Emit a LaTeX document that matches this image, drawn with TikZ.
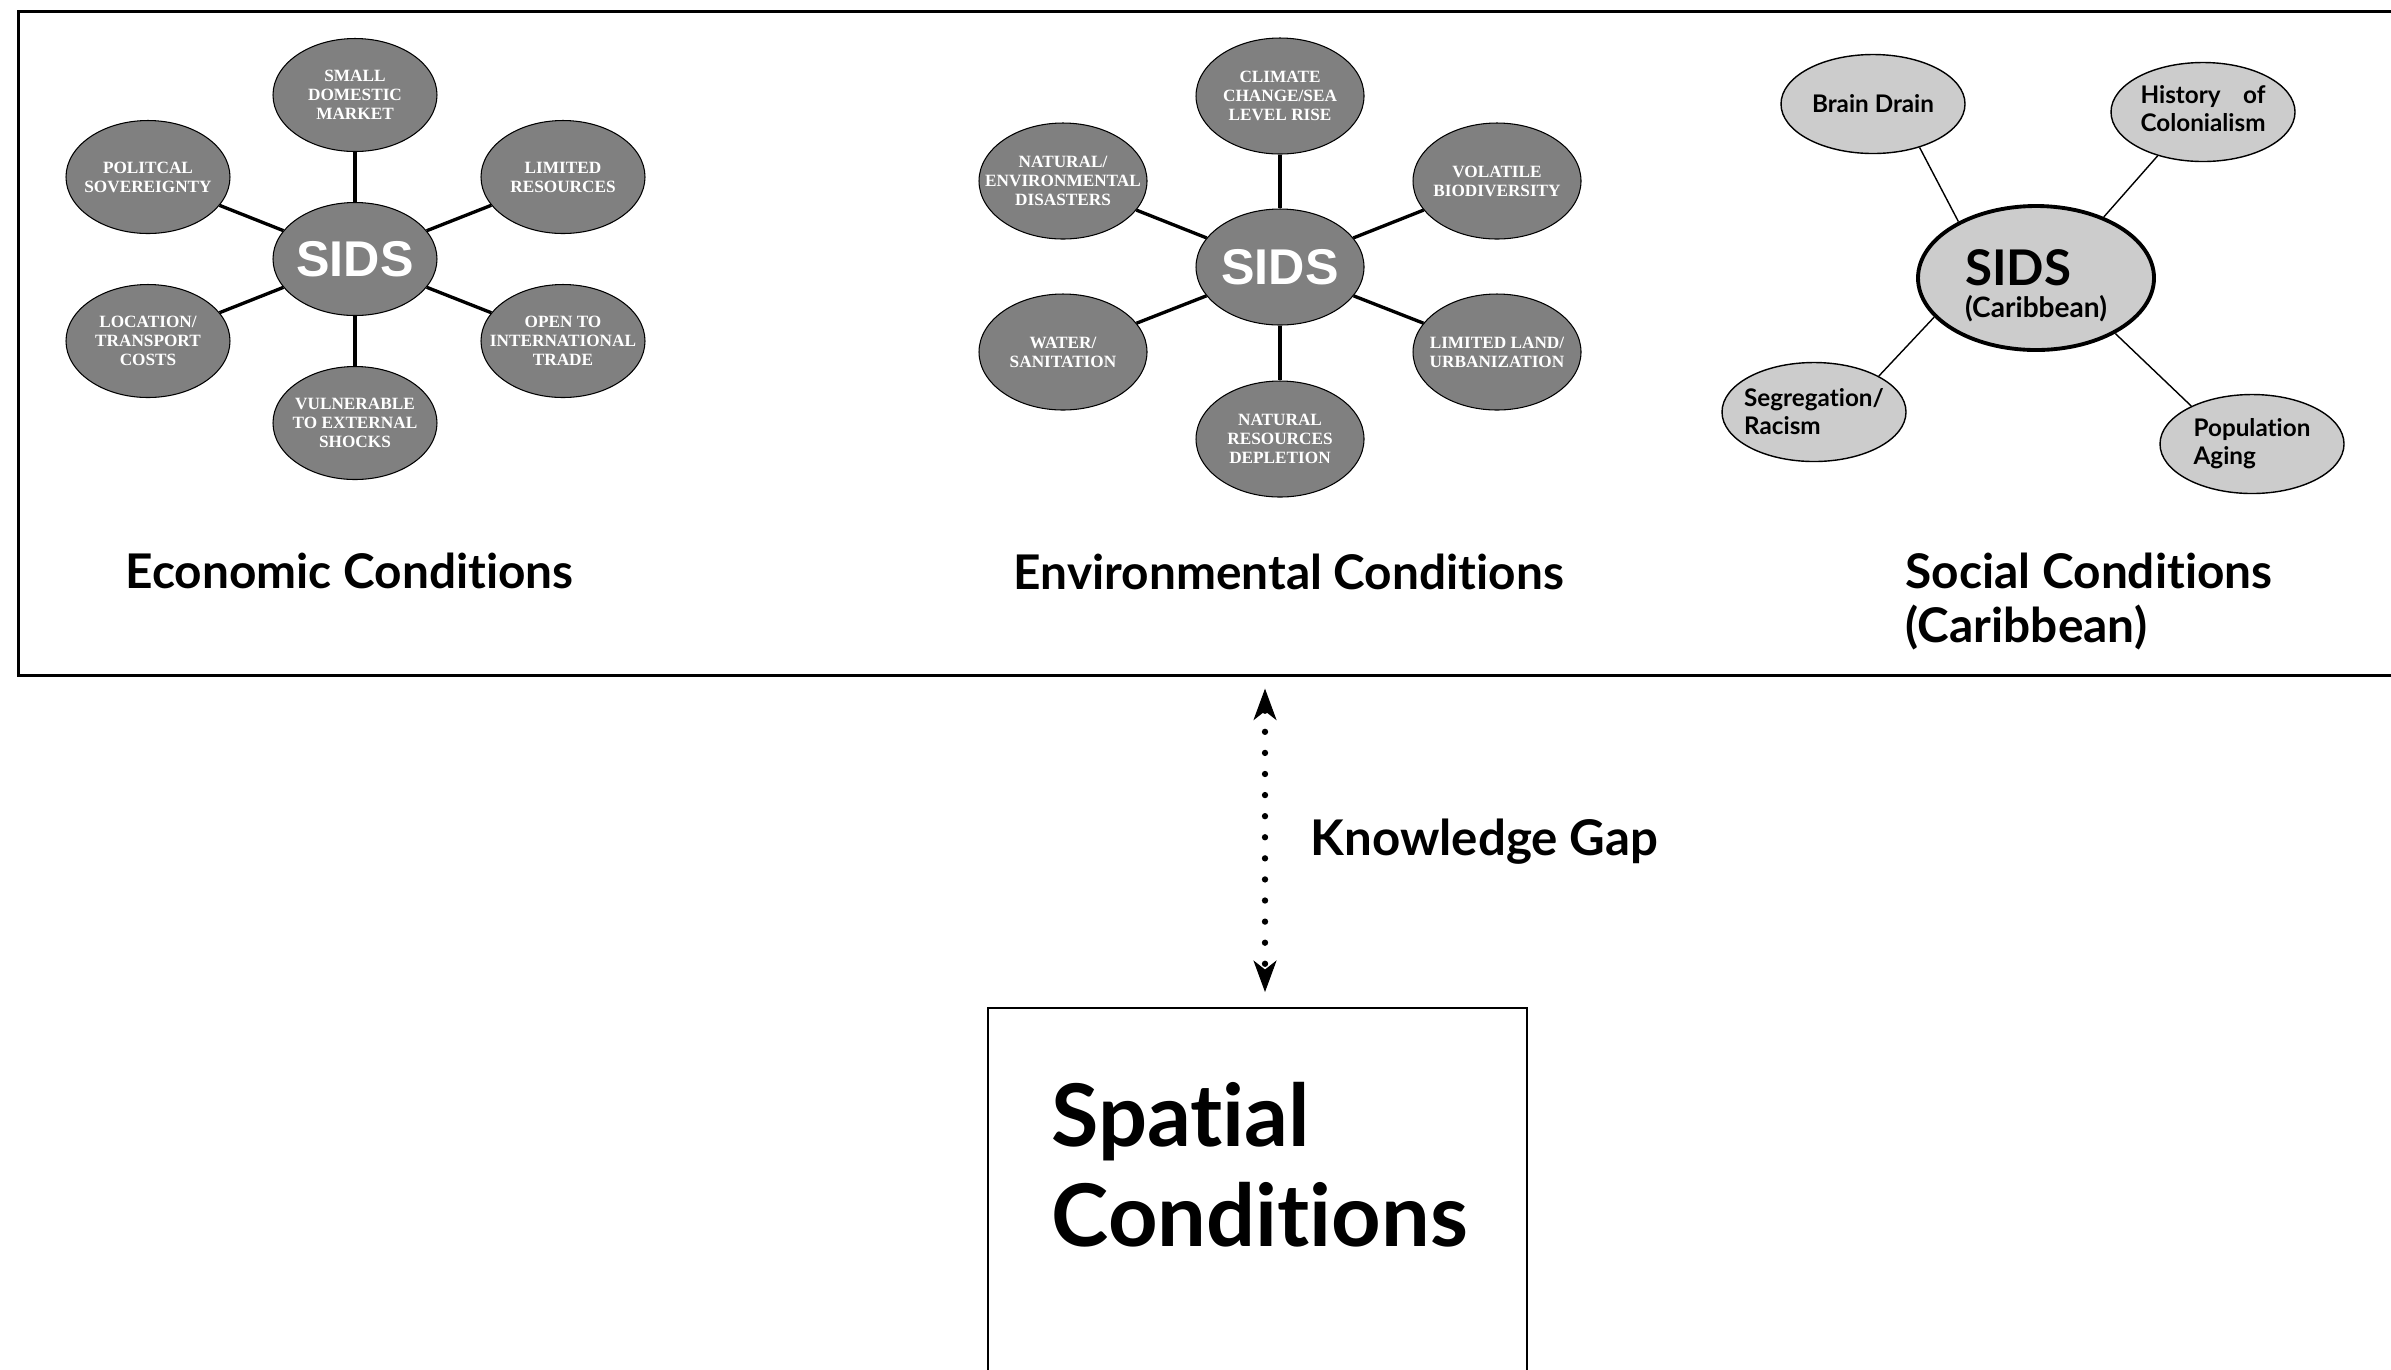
\documentclass[tikz,border=0pt]{standalone}
\usepackage{fontspec}
\setmainfont{Lato}[Ligatures=NoCommon]
\newfontfamily\timesfont{Liberation Serif}
\newfontfamily\arialfont{Liberation Sans}
\usetikzlibrary{shapes.geometric,arrows.meta}
\definecolor{hubgray}{gray}{0.5}
\definecolor{socgray}{gray}{0.8}

\begin{document}
\begin{tikzpicture}[x=0.1mm,y=-0.1mm,
		bubble/.style={ellipse,draw,fill=hubgray,line width=0.3pt,inner xsep=-3mm,inner ysep=0pt,minimum width=16.4mm,minimum height=11.3mm,text=white,align=center,font=\timesfont\bfseries\fontsize{4.9}{5.4}\selectfont},
		envbubble/.style={bubble,minimum width=16.8mm,minimum height=11.6mm},
		hub/.style={font=\arialfont\bfseries\fontsize{14.3}{16}\selectfont},
		spoke/.style={line width=0.95pt},
		socbubble/.style={ellipse,draw,fill=socgray,line width=0.4pt,inner xsep=-3mm,inner ysep=0pt,minimum width=18.4mm,minimum height=9.9mm,align=left,font=\bfseries\fontsize{6.9}{8}\selectfont},
		link/.style={line width=0.4pt},
		title/.style={anchor=base west,inner sep=0pt,align=left,font=\bfseries\fontsize{13.6}{15.1}\selectfont},
		gaparrow/.style={line width=1.8pt,line cap=round,dash pattern=on 0pt off 6pt,
			{Stealth[length=9pt,width=6.6pt,inset=2.6pt,line width=0.3pt]}-{Stealth[length=9pt,width=6.6pt,inset=2.6pt,line width=0.3pt]}}]
		\useasboundingbox (0,0) rectangle (2391,1369);
		\clip (0,0) rectangle (2391,1369);
		
		% Draw frames.
		\node[draw,line width=0.75pt,anchor=north west,inner sep=0pt,minimum width=250mm,minimum height=66.4mm] (condbox) at (17,10) {};
		\node[draw,line width=0.65pt,anchor=north west,inner sep=0pt,minimum width=53.9mm,minimum height=50mm] (spatialbox) at (987,1007) {};
		
		% Draw economic conditions.
		\node[bubble,hub] (ecohub) at (355,259) {SIDS};
		\node[bubble] (market) at (355,95) {SMALL\\DOMESTIC\\MARKET};
		\node[bubble] (resources) at (563,177) {LIMITED\\RESOURCES};
		\node[bubble] (trade) at (563,341) {OPEN TO\\INTERNATIONAL\\TRADE};
		\node[bubble] (shocks) at (355,423) {VULNERABLE\\TO EXTERNAL\\SHOCKS};
		\node[bubble] (transport) at (148,341) {LOCATION/\\TRANSPORT\\COSTS};
		\node[bubble] (sovereignty) at (148,177) {POLITCAL\\SOVEREIGNTY};
		\foreach \leaf in {market,resources,trade,shocks,transport,sovereignty}
			\draw[spoke] (ecohub) -- (\leaf);
		
		% Draw environmental conditions.
		\node[envbubble,hub] (envhub) at (1280,267) {SIDS};
		\node[envbubble] (climate) at (1280,96) {CLIMATE\\CHANGE/SEA\\LEVEL RISE};
		\node[envbubble] (biodiversity) at (1497,181) {VOLATILE\\BIODIVERSITY};
		\node[envbubble] (urbanization) at (1497,352) {LIMITED LAND/\\URBANIZATION};
		\node[envbubble] (depletion) at (1280,439) {NATURAL\\RESOURCES\\DEPLETION};
		\node[envbubble] (sanitation) at (1063,352) {WATER/\\SANITATION};
		\node[envbubble] (disasters) at (1063,181) {NATURAL/\\ENVIRONMENTAL\\DISASTERS};
		\foreach \leaf in {climate,biodiversity,urbanization,depletion,sanitation,disasters}
			\draw[spoke] (envhub) -- (\leaf);
		
		% Draw social conditions.
		\node[socbubble,line width=1.1pt,minimum width=23.6mm,minimum height=14.4mm,text height=7.8mm,text depth=0pt,font=\bfseries\fontsize{8}{9.1}\selectfont] (sochub) at (2036,278) {{\fontsize{14}{9.1}\selectfont SIDS}\\(Caribbean)};
		\node[socbubble] (brain) at (1873,104) {Brain Drain};
		\node[socbubble] (history) at (2203,112) {\begin{tabular}{@{}l@{}}History\hfill of\\Colonialism\end{tabular}};
		\node[socbubble] (segregation) at (1814,412) {Segregation/\\Racism};
		\node[socbubble] (aging) at (2252,444) {Population\\Aging};
		\draw[link] (brain.-43) -- (sochub.144);
		\draw[link] (history.-136) -- (sochub.42);
		\draw[link] (segregation.29) -- (sochub.-159);
		\draw[link] (aging.148) -- (sochub.-35);
		
		% Draw titles.
		\node[title] (ecotitle) at (125,588) {Economic Conditions};
		\node[title] (envtitle) at (1013,589) {Environmental Conditions};
		\node[title] (soctitle) at (1905,642) {Social Conditions\\(Caribbean)};
		
		% Connect frames.
		\coordinate (gapline) at (1265,0);
		\draw[gaparrow,shorten <=1.2mm,shorten >=1.5mm] (condbox.south -| gapline) -- (spatialbox.north -| gapline);
		\node[title,font=\bfseries\fontsize{14}{16}\selectfont] (gaplabel) at (1310,855) {Knowledge Gap};
		\node[anchor=base west,inner sep=0pt,align=left,font=\bfseries\fontsize{24.6}{28.2}\selectfont] (spatialtext) at (1051,1246) {Spatial\\Conditions};
	\end{tikzpicture}
\end{document}
